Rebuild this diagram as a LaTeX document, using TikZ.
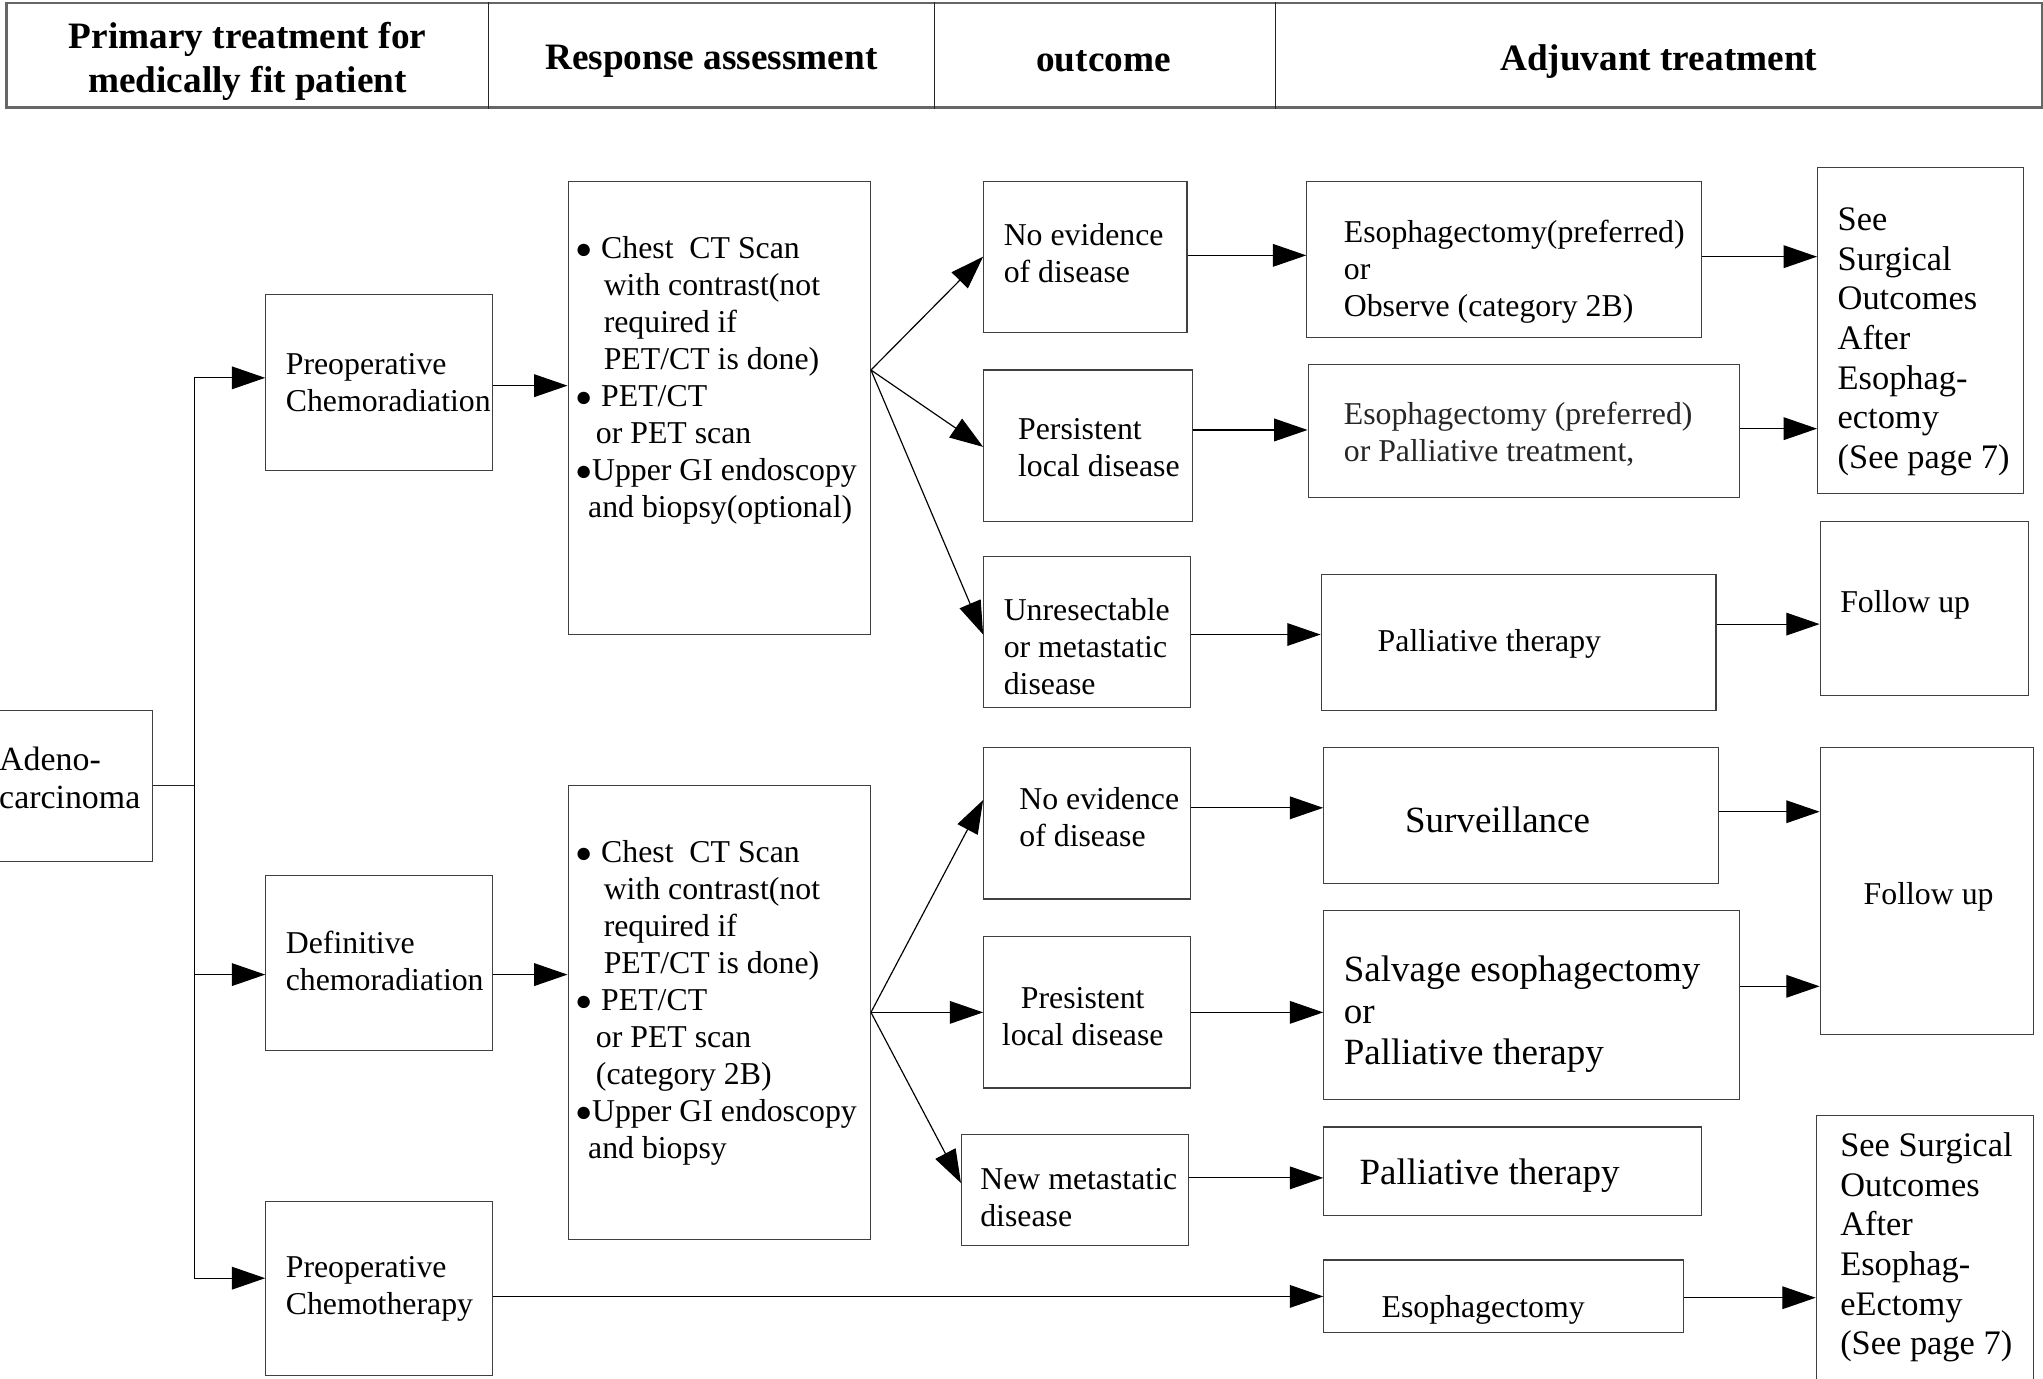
\documentclass[tikz,border=0pt]{standalone}
\usepackage{fontspec}
\setmainfont{Liberation Serif}
\usetikzlibrary{arrows.meta,fit}
\newcommand\bul{{\fontsize{11}{11}\selectfont ●}}
\begin{document}
\begin{tikzpicture}[x=0.5pt,y=-0.5pt,
 box/.style={draw=black!75, line width=0.45pt, inner sep=0pt},
 txt/.style={inner sep=0pt, anchor=west, align=left, yshift=-1.2pt, font=\fontsize{12.2}{14.2}\selectfont},
 big/.style={txt, font=\fontsize{14.2}{16}\selectfont},
 mid/.style={txt, font=\fontsize{13.2}{15.2}\selectfont},
 hd/.style={inner sep=0pt, align=center, yshift=-1.5pt, font=\fontsize{14.3}{17}\selectfont\bfseries},
 arr/.style={-{Triangle[length=12.8pt,width=8.7pt]}, line width=0.45pt, draw=black},
 ln/.style={line width=0.45pt, draw=black!85}]
\useasboundingbox[fill=white] (0,0) rectangle (1568,1058);

% header
\node[box, draw=black!60, line width=0.8pt, fit={(5,2.5) (1567,82.5)}] (H) {};
\draw[ln] (375,0 |- H.north) -- (375,0 |- H.south);
\draw[ln] (717,0 |- H.north) -- (717,0 |- H.south);
\draw[ln] (979,0 |- H.north) -- (979,0 |- H.south);
\node[hd] (h1) at (190,44) {Primary treatment for\\medically fit patient};
\node[hd] (h2) at (546,44) {Response assessment};
\node[hd] (h3) at (847,44) {outcome};
\node[hd] (h4) at (1273,44) {Adjuvant treatment};

% boxes
\node[box, fit={(-20,545) (117,661)}] (AD) {};
\node[txt, font=\fontsize{13}{14.6}\selectfont] (ADt) at (-1,595) {Adeno-\\carcinoma};

\node[box, fit={(204,226) (378,361)}] (B1) {};
\node[txt] (B1t) at (219,291) {Preoperative\\Chemoradiation};
\node[box, fit={(204,672) (378,806)}] (B2) {};
\node[txt] (B2t) at (219,735) {Definitive\\chemoradiation};
\node[box, fit={(204,922) (378,1056)}] (B3) {};
\node[txt] (B3t) at (219,987) {Preoperative\\Chemotherapy};

\node[box, fit={(436,139) (668,487)}] (A1) {};
\node[txt] (A1t) at (441,289.5) {\makebox[10pt][l]{\bul}Chest\ \ CT Scan\\
\hspace*{11pt}with contrast(not\\
\hspace*{11pt}required if\\
\hspace*{11pt}PET/CT is done)\\
\makebox[10pt][l]{\bul}PET/CT\\
\hspace*{8pt}or PET scan\\
\makebox[6.5pt][l]{\bul}Upper GI endoscopy\\
\hspace*{5pt}and biopsy(optional)};

\node[box, fit={(436,603) (668,951)}] (A2) {};
\node[txt] (A2t) at (441,767.5) {\makebox[10pt][l]{\bul}Chest\ \ CT Scan\\
\hspace*{11pt}with contrast(not\\
\hspace*{11pt}required if\\
\hspace*{11pt}PET/CT is done)\\
\makebox[10pt][l]{\bul}PET/CT\\
\hspace*{8pt}or PET scan\\
\hspace*{8pt}(category 2B)\\
\makebox[6.5pt][l]{\bul}Upper GI endoscopy\\
\hspace*{5pt}and biopsy};

\node[box, fit={(755,139) (911,255)}] (N1) {};
\node[txt] (N1t) at (770,191.5) {No evidence\\of disease};
\node[box, fit={(755,284) (915,400)}] (N2) {};
\node[txt] (N2t) at (781,341) {Persistent\\local disease};
\node[box, fit={(755,427) (914,543)}] (N3) {};
\node[txt] (N3t) at (770,494) {Unresectable\\or metastatic\\disease};
\node[box, fit={(755,574) (914,690)}] (N4) {};
\node[txt] (N4t) at (782,625) {No evidence\\of disease};
\node[box, fit={(755,719) (914,835)}] (N5) {};
\node[txt, anchor=center, align=center] (N5t) at (831,778) {Presistent\\local disease};
\node[box, fit={(738,871) (912,956)}] (N6) {};
\node[txt] (N6t) at (752,917) {New metastatic\\disease};

\node[box, fit={(1003,139) (1306,259)}] (E1) {};
\node[txt] (E1t) at (1031,206) {Esophagectomy(preferred)\\or\\Observe (category 2B)};
\node[box, fit={(1004,280) (1335,382)}] (E2) {};
\node[txt, text=black!85] (E2t) at (1031,331) {Esophagectomy (preferred)\\or Palliative treatment,};
\node[box, fit={(1014,441) (1317,545)}] (P1) {};
\node[txt] (P1t) at (1057,492) {Palliative therapy};
\node[box, fit={(1016,574) (1319,678)}] (SV) {};
\node[big] (SVt) at (1078,627) {Surveillance};
\node[box, fit={(1016,699) (1335,844)}] (SL) {};
\node[big] (SLt) at (1031,776) {Salvage esophagectomy\\or\\Palliative therapy};
\node[box, fit={(1016,865) (1306,933)}] (P2) {};
\node[big] (P2t) at (1043,900) {Palliative therapy};
\node[box, fit={(1016,967) (1292,1023)}] (ES) {};
\node[txt] (ESt) at (1060,1003) {Esophagectomy};

\node[box, fit={(1395,128.5) (1553,379)}] (S1) {};
\node[mid] (S1t) at (1410,260) {See\\Surgical\\Outcomes\\After\\Esophag-\\ectomy\\(See page 7)};
\node[box, fit={(1397,400) (1557,534)}] (F1) {};
\node[txt] (F1t) at (1412,462) {Follow up};
\node[box, fit={(1397,574) (1561,794)}] (F2) {};
\node[txt] (F2t) at (1430,686) {Follow up};
\node[box, fit={(1394,856) (1561,1090)}] (S2) {};
\node[mid] (S2t) at (1412,955) {See Surgical\\Outcomes\\After\\Esophag-\\eEctomy\\(See page 7)};

% connectors
\coordinate (tj) at (149,603);
\draw[ln] (AD.east |- tj) -- (tj);
\draw[arr] (tj) |- (B1.west |- 0,290);
\draw[arr] (tj) |- (B2.west |- 0,748);
\draw[arr] (tj) |- (B3.west |- 0,981);
\draw[arr] (B1.east |- 0,296) -- (A1.west |- 0,296);
\draw[arr] (B2.east |- 0,748) -- (A2.west |- 0,748);

\coordinate (f1) at (A1.east |- 0,284);
\draw[arr] (f1) -- (N1.west |- 0,197);
\draw[arr] (f1) -- (N2.west |- 0,343);
\draw[arr] (f1) -- (N3.west |- 0,487);
\coordinate (f2) at (A2.east |- 0,777);
\draw[arr] (f2) -- (N4.west |- 0,614);
\draw[arr] (f2) -- (N5.west |- 0,777);
\draw[arr] (f2) -- (N6.west |- 0,908);

\draw[arr] (N1.east |- 0,196) -- (E1.west |- 0,196);
\draw[arr] (N2.east |- 0,330) -- (E2.west |- 0,330);
\draw[arr] (N3.east |- 0,487) -- (P1.west |- 0,487);
\draw[arr] (N4.east |- 0,620) -- (SV.west |- 0,620);
\draw[arr] (N5.east |- 0,777) -- (SL.west |- 0,777);
\draw[arr] (N6.east |- 0,904) -- (P2.west |- 0,904);
\draw[arr] (B3.east |- 0,995) -- (ES.west |- 0,995);

\draw[arr] (E1.east |- 0,197) -- (S1.west |- 0,197);
\draw[arr] (E2.east |- 0,329) -- (S1.west |- 0,329);
\draw[arr] (P1.east |- 0,479) -- (F1.west |- 0,479);
\draw[arr] (SV.east |- 0,623) -- (F2.west |- 0,623);
\draw[arr] (SL.east |- 0,757) -- (F2.west |- 0,757);
\draw[arr] (ES.east |- 0,996) -- (S2.west |- 0,996);
\end{tikzpicture}
\end{document}
